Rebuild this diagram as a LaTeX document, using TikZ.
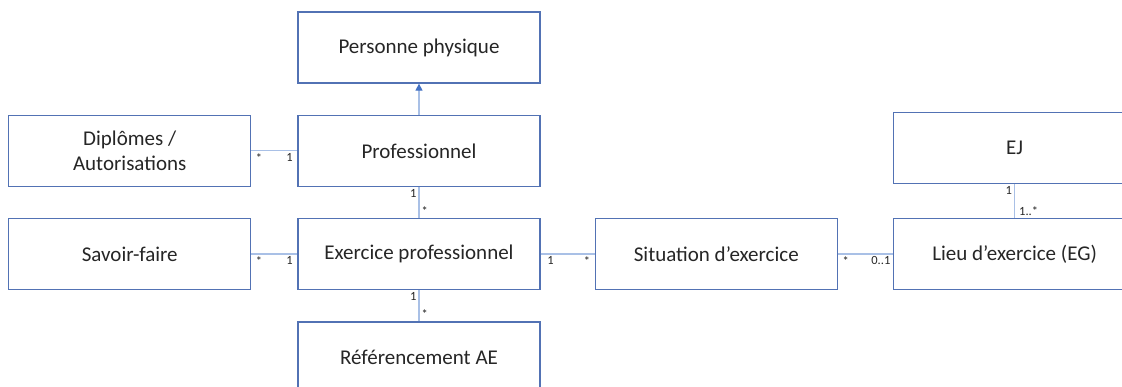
\documentclass[tikz,border=0pt]{standalone}
\usepackage{fontspec}
\setmainfont{Carlito}
\usepackage{xcolor}
\usetikzlibrary{arrows.meta, positioning}
\definecolor{boxblue}{HTML}{5272B4}
\definecolor{linkblue}{HTML}{A9C0E6}
\definecolor{tipblue}{HTML}{4472C4}
\definecolor{inkgray}{HTML}{262626}

\begin{document}
\begin{tikzpicture}[
  x=1pt, y=-1pt,
  node distance=31pt,
  cls/.style={draw=boxblue, line width=1.3pt, fill=white, text=inkgray, align=center,
    minimum width=242pt, minimum height=71pt, inner sep=0pt,
    font=\fontsize{21}{25}\selectfont},
  link/.style={draw=linkblue, line width=1.2pt},
  mult/.style={text=inkgray, inner sep=2pt, font=\fontsize{12.5}{15}\selectfont},
]
  \useasboundingbox (0,0) rectangle (1122,387);
  \clip (0,0) rectangle (1122,387);

  \node[cls] at (419,47.5) (personne) {Personne physique};
  \node[cls, below=of personne] (prof) {Professionnel};
  \node[cls, below=of prof] (exercice) {Exercice professionnel};
  \node[cls, below=of exercice] (refae) {Référencement AE};
  \node[cls, left=46pt of prof] (diplomes) {Diplômes /\\ Autorisations};
  \node[cls, left=46pt of exercice] (savoir) {Savoir-faire};
  \node[cls, right=54pt of exercice] (situation) {Situation d’exercice};
  \node[cls, right=55pt of situation] (lieu) {Lieu d’exercice (EG)};
  \node[cls, above=34pt of lieu] (ej) {EJ};

  \draw[link, -{Triangle[length=7pt, width=7pt, color=tipblue]}] (prof) -- (personne);
  \draw[link] (diplomes) -- node[mult, at start, anchor=north west, xshift=2pt] {*}
    node[mult, at end, anchor=north east, xshift=-2pt] {1} (prof);
  \draw[link] (savoir) -- node[mult, at start, anchor=north west, xshift=2pt] {*}
    node[mult, at end, anchor=north east, xshift=-2pt] {1} (exercice);
  \draw[link] (prof) -- node[mult, at start, anchor=north east] {1}
    node[mult, at end, anchor=south west] {*} (exercice);
  \draw[link] (exercice) -- node[mult, at start, anchor=north east] {1}
    node[mult, at end, anchor=south west] {*} (refae);
  \draw[link] (exercice) -- node[mult, at start, anchor=north west, xshift=4pt] {1}
    node[mult, at end, anchor=north east, xshift=-2pt] {*} (situation);
  \draw[link] (situation) -- node[mult, at start, anchor=north west, xshift=2pt] {*}
    node[mult, at end, anchor=north east] {0..1} (lieu);
  \draw[link] (ej) -- node[mult, at start, anchor=north east] {1}
    node[mult, at end, anchor=south west, xshift=2pt] {1..*} (lieu);
\end{tikzpicture}
\end{document}
